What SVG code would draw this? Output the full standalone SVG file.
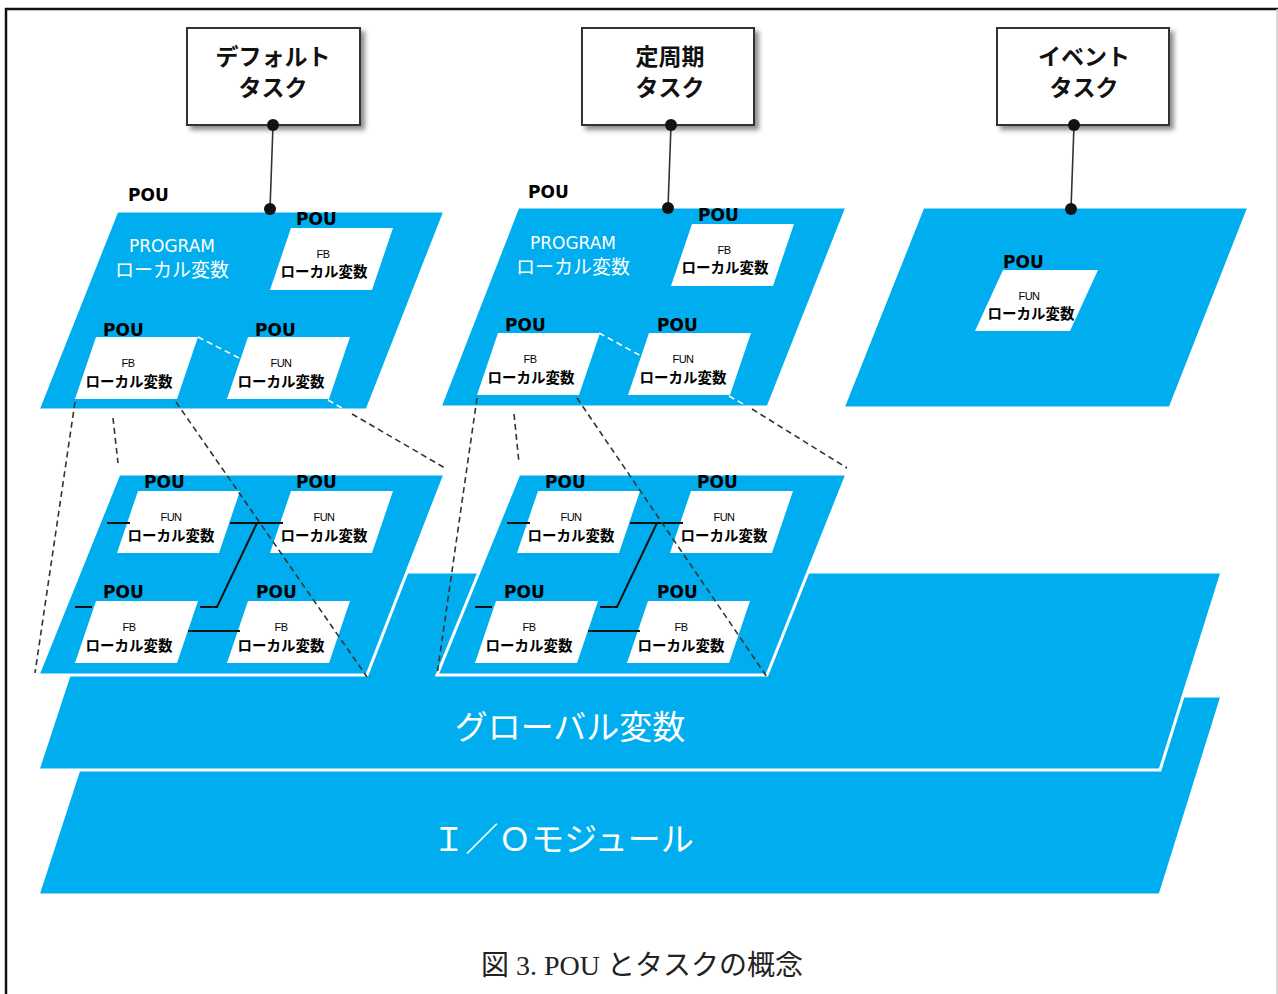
<svg xmlns="http://www.w3.org/2000/svg" width="1278" height="994" viewBox="0 0 1278 994">
<style>
.layer{fill:#00AEEF;stroke:#fff;stroke-width:3;stroke-linejoin:miter}
.box{fill:#fff}
.task{fill:#fff;stroke:#333;stroke-width:2}
.pou{font-family:"DejaVu Sans",sans-serif;font-weight:bold;font-size:17px;fill:#000}
.kind{font-family:"Liberation Sans",sans-serif;font-size:11px;fill:#000;text-anchor:middle;letter-spacing:-0.5px}
.loc{font-family:"Noto Sans CJK JP",sans-serif;font-weight:bold;font-size:14.5px;fill:#000;text-anchor:middle}
.prog{font-family:"DejaVu Sans",sans-serif;font-size:17px;fill:#fff;text-anchor:middle}
.progj{font-family:"Noto Sans CJK JP",sans-serif;font-size:19px;fill:#fff;text-anchor:middle}
.tt{font-family:"Noto Sans CJK JP",sans-serif;font-weight:bold;font-size:23px;fill:#111;text-anchor:middle}
.big{font-family:"Noto Sans CJK JP",sans-serif;font-size:33px;fill:#fff;text-anchor:middle}
.dash{stroke:#333;stroke-width:1.6;stroke-dasharray:6 4;fill:none}
.wdash{stroke:#fff;stroke-width:1.6;stroke-dasharray:6 4;fill:none}
.wire{stroke:#111;stroke-width:2;fill:none}
.link{stroke:#333;stroke-width:1.6;fill:none}
.dot{fill:#111}
</style>
<defs>
<path id="pb" d="M21,0 H123 L102,62 H0 Z"/>
<filter id="sh" x="-10%" y="-10%" width="130%" height="130%">
<feDropShadow dx="4" dy="4" stdDeviation="2.5" flood-color="#000" flood-opacity="0.45"/>
</filter>
</defs>
<rect x="0" y="0" width="1278" height="994" fill="#fff"/>
<path d="M6,994 V9 H1278" fill="none" stroke="#111" stroke-width="2.5"/>
<line x1="1277" y1="9" x2="1277" y2="994" stroke="#ccc" stroke-width="1.5"/>

<g id="io-layer">
<polygon class="layer" points="103,696 1222,696 1160,895 38,895"/>
<text class="big" x="563" y="851" font-size="29px">Ｉ／Ｏモジュール</text>
</g>
<g id="global-layer">
<polygon class="layer" points="103,572 1222,572 1160,770 38,770"/>
<text class="big" x="570" y="739">グローバル変数</text>
</g>

<g id="lower1">
<polygon class="layer" points="119,474 445,474 367,675 38,675"/>
<g id="l1-fun1"><text class="pou" x="144" y="488">POU</text><use href="#pb" class="box" x="117" y="491"/><text class="kind" x="171" y="521">FUN</text><text class="loc" x="171" y="541">ローカル変数</text></g>
<g id="l1-fun2"><text class="pou" x="296" y="488">POU</text><use href="#pb" class="box" x="270" y="491"/><text class="kind" x="324" y="521">FUN</text><text class="loc" x="324" y="541">ローカル変数</text></g>
<g id="l1-fb1"><text class="pou" x="103" y="598">POU</text><use href="#pb" class="box" x="75" y="601"/><text class="kind" x="129" y="631">FB</text><text class="loc" x="129" y="651">ローカル変数</text></g>
<g id="l1-fb2"><text class="pou" x="256" y="598">POU</text><use href="#pb" class="box" x="227" y="601"/><text class="kind" x="281" y="631">FB</text><text class="loc" x="281" y="651">ローカル変数</text></g>
<path class="wire" d="M107,523 H130 M230,523 H283 M257,523 L217,607 H200 M75,607 H92 M188,631 H240"/>
</g>

<g id="lower2">
<polygon class="layer" points="519,474 847,474 767,675 437,675"/>
<g id="l2-fun1"><text class="pou" x="545" y="488">POU</text><use href="#pb" class="box" x="517" y="491"/><text class="kind" x="571" y="521">FUN</text><text class="loc" x="571" y="541">ローカル変数</text></g>
<g id="l2-fun2"><text class="pou" x="697" y="488">POU</text><use href="#pb" class="box" x="670" y="491"/><text class="kind" x="724" y="521">FUN</text><text class="loc" x="724" y="541">ローカル変数</text></g>
<g id="l2-fb1"><text class="pou" x="504" y="598">POU</text><use href="#pb" class="box" x="475" y="601"/><text class="kind" x="529" y="631">FB</text><text class="loc" x="529" y="651">ローカル変数</text></g>
<g id="l2-fb2"><text class="pou" x="657" y="598">POU</text><use href="#pb" class="box" x="627" y="601"/><text class="kind" x="681" y="631">FB</text><text class="loc" x="681" y="651">ローカル変数</text></g>
<path class="wire" d="M507,523 H530 M630,523 H683 M657,523 L617,607 H600 M475,607 H492 M588,631 H640"/>
</g>

<g id="program1">
<text class="pou" x="128" y="201">POU</text>
<polygon class="layer" points="117,211 445,211 367,410 38,410" stroke="none"/>
<text class="prog" x="172" y="252">PROGRAM</text>
<text class="progj" x="172" y="277">ローカル変数</text>
<g id="p1-fb1"><text class="pou" x="296" y="225">POU</text><use href="#pb" class="box" x="270" y="228"/><text class="kind" x="323" y="258">FB</text><text class="loc" x="324" y="277">ローカル変数</text></g>
<g id="p1-fb2"><text class="pou" x="103" y="336">POU</text><use href="#pb" class="box" x="75" y="337"/><text class="kind" x="128" y="367">FB</text><text class="loc" x="129" y="387">ローカル変数</text></g>
<g id="p1-fun"><text class="pou" x="255" y="336">POU</text><use href="#pb" class="box" x="227" y="337"/><text class="kind" x="281" y="367">FUN</text><text class="loc" x="281" y="387">ローカル変数</text></g>
</g>

<g id="program2">
<text class="pou" x="528" y="198">POU</text>
<polygon class="layer" points="518,207 847,207 768,407 440,407" stroke="none"/>
<text class="prog" x="573" y="249">PROGRAM</text>
<text class="progj" x="573" y="274">ローカル変数</text>
<g id="p2-fb1"><text class="pou" x="698" y="221">POU</text><use href="#pb" class="box" x="671" y="224"/><text class="kind" x="724" y="254">FB</text><text class="loc" x="725" y="273">ローカル変数</text></g>
<g id="p2-fb2"><text class="pou" x="505" y="331">POU</text><use href="#pb" class="box" x="477" y="333"/><text class="kind" x="530" y="363">FB</text><text class="loc" x="531" y="383">ローカル変数</text></g>
<g id="p2-fun"><text class="pou" x="657" y="331">POU</text><use href="#pb" class="box" x="628" y="333"/><text class="kind" x="683" y="363">FUN</text><text class="loc" x="683" y="383">ローカル変数</text></g>
</g>

<g id="event-pou">
<polygon class="layer" points="923,207 1249,207 1170,408 843,408" stroke="none"/>
<text class="pou" x="1003" y="268">POU</text>
<g id="p3-fun"><polygon class="box" points="1003,270 1098,270 1070,331 975,331"/><text class="kind" x="1029" y="300">FUN</text><text class="loc" x="1031" y="319">ローカル変数</text></g>
</g>

<g id="task-default"><rect class="task" x="187" y="28" width="173" height="97" filter="url(#sh)"/><text class="tt" x="273" y="65">デフォルト</text><text class="tt" x="273" y="96">タスク</text></g>
<g id="task-cyclic"><rect class="task" x="582" y="28" width="172" height="97" filter="url(#sh)"/><text class="tt" x="670" y="65">定周期</text><text class="tt" x="670" y="96">タスク</text></g>
<g id="task-event"><rect class="task" x="997" y="28" width="172" height="97" filter="url(#sh)"/><text class="tt" x="1084" y="65">イベント</text><text class="tt" x="1084" y="96">タスク</text></g>

<g id="connectors">
<line class="link" x1="273" y1="125" x2="270" y2="209"/>
<line class="link" x1="671" y1="125" x2="668" y2="208"/>
<line class="link" x1="1074" y1="125" x2="1071" y2="209"/>
<circle class="dot" cx="273" cy="125" r="6"/><circle class="dot" cx="270" cy="209" r="6"/>
<circle class="dot" cx="671" cy="125" r="6"/><circle class="dot" cx="668" cy="208" r="6"/>
<circle class="dot" cx="1074" cy="125" r="6"/><circle class="dot" cx="1071" cy="209" r="6"/>
<path class="wdash" d="M198,337 L243,360 M328,400 L352,414"/>
<path class="dash" d="M75,402 L35,673 M113,418 L118,463 M176,402 L367,677 M352,414 L445,468"/>
<path class="wdash" d="M599,333 L643,357 M729,396 L752,409"/>
<path class="dash" d="M477,398 L437,675 M514,414 L519,463 M577,398 L767,677 M752,409 L847,468"/>
</g>

<text x="642" y="975" font-family="'Liberation Serif','Noto Sans CJK JP',serif" font-size="28px" fill="#222" text-anchor="middle">図 3. POU とタスクの概念</text>
</svg>
